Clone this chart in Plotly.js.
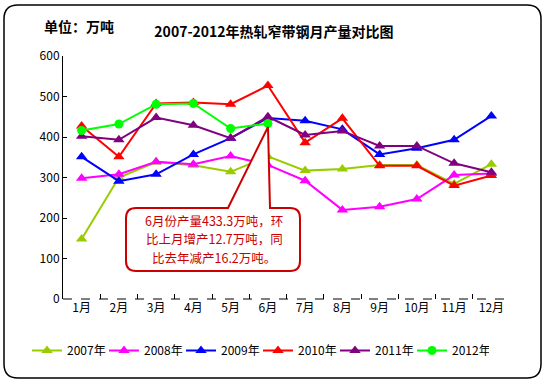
<!DOCTYPE html>
<html><head><meta charset="utf-8">
<script src="https://cdn.plot.ly/plotly-3.0.1.min.js"></script>
<style>body{margin:0;background:#fff}</style>
</head><body><div id="c" style="width:546px;height:384px"></div>
<script>
const months = ["1月","2月","3月","4月","5月","6月","7月","8月","9月","10月","11月","12月"];
const seriesNames = ["2007年","2008年","2009年","2010年","2011年","2012年"];
const v2007 = [148,300,338,330,314,352,317,321,331,331,284,333];
const v2008 = [298,308,339,333,353,331,292,220,228,247,306,310];
const v2009 = [351,291,308,357,397,447,440,419,357,372,393,452];
const v2010 = [427,351,483,485,481,527,386,446,329,329,280,305];
const v2011 = [402,393,448,429,397,450,405,415,378,378,335,313];
const v2012 = [416,432,481,483,421,433.3];
const colors = ["#99CC00","#FF00FF","#0000FF","#FF0000","#800080","#00FF00"];
const symbols = ["triangle-up","triangle-up","triangle-up","triangle-up","triangle-up","circle"];
const allVals = [v2007,v2008,v2009,v2010,v2011,v2012];
const calloutLines = ["6月份产量433.3万吨，环","比上月增产12.7万吨，同","比去年减产16.2万吨。"];

const L=63, R=510, T=56, B=299;
const px = x => (x-L)/(R-L);
const py = y => (B-y)/(B-T);

const traces = allVals.map((vals,i)=>({
  type:'scatter', mode:'lines+markers', name:seriesNames[i],
  x: months.slice(0, vals.length), y: vals,
  line:{color:colors[i], width:2},
  marker:{symbol:symbols[i], size:symbols[i]==='circle'?9:10, color:colors[i]}
}));

function rrect(x0,y0,x1,y1,r){
  return `M${px(x0+r)},${py(y0)} L${px(x1-r)},${py(y0)} Q${px(x1)},${py(y0)} ${px(x1)},${py(y0+r)} `+
    `L${px(x1)},${py(y1-r)} Q${px(x1)},${py(y1)} ${px(x1-r)},${py(y1)} L${px(x0+r)},${py(y1)} `+
    `Q${px(x0)},${py(y1)} ${px(x0)},${py(y1-r)} L${px(x0)},${py(y0+r)} Q${px(x0)},${py(y0)} ${px(x0+r)},${py(y0)} Z`;
}
const cx0=126, cy0=208, cx1=300, cy1=271, cr=10;
const callout = `M${px(cx0+cr)},${py(cy0)} L${px(228)},${py(cy0)} L${px(268)},${py(127)} L${px(270)},${py(cy0)} L${px(cx1-cr)},${py(cy0)} Q${px(cx1)},${py(cy0)} ${px(cx1)},${py(cy0+cr)} `+
  `L${px(cx1)},${py(cy1-cr)} Q${px(cx1)},${py(cy1)} ${px(cx1-cr)},${py(cy1)} L${px(cx0+cr)},${py(cy1)} `+
  `Q${px(cx0)},${py(cy1)} ${px(cx0)},${py(cy1-cr)} L${px(cx0)},${py(cy0+cr)} Q${px(cx0)},${py(cy0)} ${px(cx0+cr)},${py(cy0)} Z`;

const font = '"Noto Sans CJK SC", "DejaVu Sans", sans-serif';
const annotations = [
  {xref:'paper', yref:'paper', x:px(79), y:py(26), text:'<b>单位：万吨</b>', showarrow:false, font:{size:14, color:'#000'}, xanchor:'center', yanchor:'middle'}
];
calloutLines.forEach((t,i)=>annotations.push({xref:'paper', yref:'paper', x:px(214), y:py(220+18.5*i), text:t, showarrow:false,
  font:{size:12.5, color:'#CC0000'}, xanchor:'center', yanchor:'middle', borderpad:0}));

const layout = {
  width:546, height:384,
  margin:{l:L, r:546-R, t:T, b:384-B},
  paper_bgcolor:'#fff', plot_bgcolor:'rgba(0,0,0,0)',
  font:{family:font, size:12, color:'#000'},
  title:{text:'<b>2007-2012年热轧窄带钢月产量对比图</b>', x:274/546, xanchor:'center', y:1-32/384, yanchor:'middle', font:{size:14, color:'#000', family:font}},
  xaxis:{type:'category', showgrid:false, zeroline:false, showline:false,
    ticks:'inside', tickson:'boundaries', ticklen:5, tickcolor:'#000',
    tickfont:{size:12}, range:[-0.5,11.5], fixedrange:true},
  yaxis:{range:[0,600], dtick:100, showgrid:false, zeroline:false, showline:true, linecolor:'#000', linewidth:1,
    ticks:'inside', ticklen:4, tickcolor:'#000', tickfont:{size:12}, fixedrange:true},
  showlegend:true,
  legend:{orientation:'h', xref:'paper', yref:'paper', x:px(27), y:py(336), xanchor:'left', yanchor:'top',
    font:{size:12}, entrywidth:32, entrywidthmode:'pixels', bgcolor:'rgba(0,0,0,0)'},
  shapes:[
    {type:'path', xref:'paper', yref:'paper', path:rrect(4,5,541,378,14), line:{color:'#000', width:1.5}, fillcolor:'rgba(0,0,0,0)', layer:'below'},
    {type:'line', xref:'paper', yref:'paper', x0:0, x1:1, y0:0, y1:0, line:{color:'#000', width:1, dash:'dash'}},
    {type:'path', xref:'paper', yref:'paper', path:callout, line:{color:'#CC0000', width:2}, fillcolor:'#fff', layer:'above'}
  ],
  annotations:annotations
};
Plotly.newPlot('c', traces, layout, {displayModeBar:false, staticPlot:true});
</script></body></html>
